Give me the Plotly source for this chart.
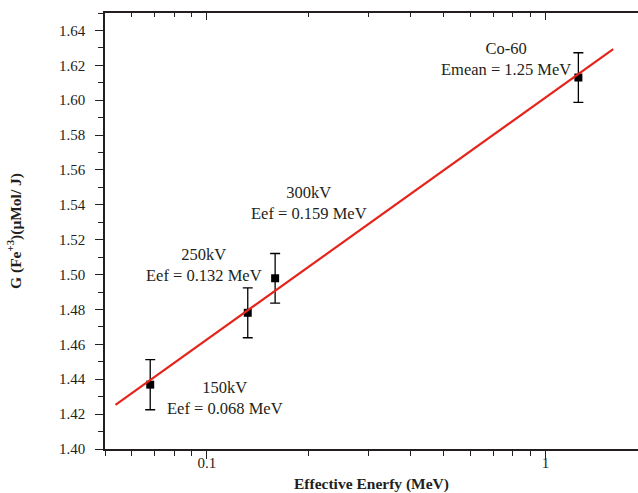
import math
import plotly.graph_objects as go

# Data
energy = [0.068, 0.132, 0.159, 1.25]          # MeV
g_value = [1.4369, 1.4781, 1.4979, 1.6130]    # G(Fe+3) (umol/J)
g_err = [0.0144, 0.0143, 0.0142, 0.0142]

fit_x = [0.0537, 1.584]
fit_y = [1.4253, 1.6293]

labels = ["150kV<br>Eef = 0.068 MeV", "250kV<br>Eef = 0.132 MeV",
          "300kV<br>Eef = 0.159 MeV", "Co-60<br>Emean = 1.25 MeV"]
label_pos = [(-0.947, 1.429), (-1.010, 1.5056), (-0.700, 1.541), (-0.117, 1.6237)]

major_x = [0.1, 1]
minor_x = [0.05, 0.06, 0.07, 0.08, 0.09, 0.2, 0.3, 0.4, 0.5, 0.6, 0.7, 0.8, 0.9]
y_ticks = [1.40, 1.42, 1.44, 1.46, 1.48, 1.50, 1.52, 1.54, 1.56, 1.58, 1.60, 1.62, 1.64]

FONT = "Liberation Serif"
TXT = "#231f20"
xr = [math.log10(0.05), 0.273]

fig = go.Figure()
fig.add_trace(go.Scatter(
    x=energy, y=g_value, mode="markers",
    marker=dict(symbol="square", size=8, color="black"),
    error_y=dict(type="data", array=g_err, visible=True, color="black",
                 thickness=1.3, width=5),
    showlegend=False, hoverinfo="skip"))
fig.add_trace(go.Scatter(
    x=fit_x, y=fit_y, mode="lines",
    line=dict(color="#e5241b", width=2.2),
    showlegend=False, hoverinfo="skip"))
# invisible trace to activate the top axis
fig.add_trace(go.Scatter(x=[energy[0]], y=[g_value[0]], xaxis="x2", mode="markers",
                         marker=dict(opacity=0), showlegend=False, hoverinfo="skip"))

for txt, (lx, ly) in zip(labels, label_pos):
    fig.add_annotation(x=lx, y=ly, text=txt, showarrow=False, xref="x", yref="y",
                       font=dict(family=FONT, size=16.5, color=TXT),
                       align="center", xanchor="center", yanchor="middle")

fig.update_layout(
    width=638, height=493,
    margin=dict(l=105, r=0, t=13, b=44),
    paper_bgcolor="white", plot_bgcolor="white",
    font=dict(family=FONT, size=15, color=TXT),
    xaxis=dict(
        type="log", range=xr, tickvals=major_x, ticktext=["0.1", "1"],
        ticks="outside", ticklen=8, tickwidth=1.3, tickcolor=TXT,
        minor=dict(tickvals=minor_x, ticks="outside", ticklen=5, tickwidth=1.3, tickcolor=TXT),
        showline=True, linecolor=TXT, linewidth=1.5,
        showgrid=False, zeroline=False, ticklabelstandoff=-9,
        tickfont=dict(family=FONT, size=15),
        title=dict(text="<b>Effective Enerfy (MeV)</b>", font=dict(family=FONT, size=15.5), standoff=8),
    ),
    xaxis2=dict(
        type="log", range=xr, overlaying="x", side="top", anchor="y",
        tickvals=major_x, ticks="inside", ticklen=7, tickwidth=1.3, tickcolor=TXT,
        minor=dict(tickvals=minor_x, ticks="inside", ticklen=4, tickwidth=1.3, tickcolor=TXT),
        showticklabels=False, showline=True, linecolor=TXT, linewidth=1.5,
        showgrid=False, zeroline=False,
    ),
    yaxis=dict(
        range=[1.40, 1.65], tickvals=y_ticks, tickformat=".2f",
        ticks="outside", ticklen=8, tickwidth=1.3, tickcolor=TXT,
        minor=dict(dtick=0.01, ticks="outside", ticklen=5, tickwidth=1.3, tickcolor=TXT),
        showline=True, linecolor=TXT, linewidth=1.5,
        showgrid=False, zeroline=False, ticklabelstandoff=7,
        tickfont=dict(family=FONT, size=15),
        title=dict(text="<b>G (Fe<sup>+3</sup>)(μMol/ J)</b>", font=dict(family=FONT, size=15.5), standoff=34),
    ),
)

fig.write_html("out.html")
